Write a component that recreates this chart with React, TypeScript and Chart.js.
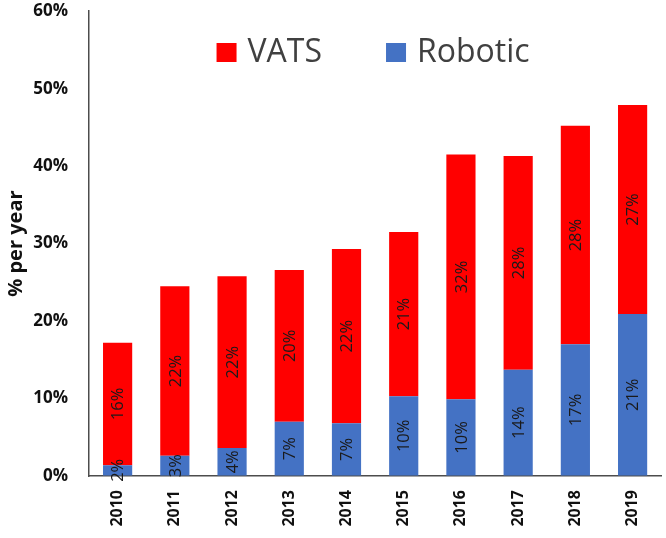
import React, { useEffect, useRef } from "react";
import { Chart, registerables } from "chart.js";

Chart.register(...registerables);

const years = ["2010", "2011", "2012", "2013", "2014", "2015", "2016", "2017", "2018", "2019"];
const robotic = [1.4, 2.6, 3.6, 7.0, 6.8, 10.3, 9.9, 13.7, 17.0, 20.9];
const vats = [15.8, 21.9, 22.2, 19.6, 22.5, 21.2, 31.6, 27.6, 28.2, 27.0];
const roboticLabels = ["2%", "3%", "4%", "7%", "7%", "10%", "10%", "14%", "17%", "21%"];
const vatsLabels = ["16%", "22%", "22%", "20%", "22%", "21%", "32%", "28%", "28%", "27%"];
const yTicks = [0, 10, 20, 30, 40, 50, 60];

const RED = "#FF0000";
const BLUE = "#4472C4";

const barLabelPlugin = {
  id: "barLabels",
  afterDatasetsDraw(chart: any) {
    const ctx = chart.ctx;
    const labelSets = [roboticLabels, vatsLabels];
    chart.data.datasets.forEach((ds: any, di: number) => {
      const meta = chart.getDatasetMeta(di);
      meta.data.forEach((bar: any, i: number) => {
        const { x, y, base } = bar.getProps(["x", "y", "base"], true);
        const cy = (y + base) / 2;
        ctx.save();
        ctx.translate(x, cy);
        ctx.rotate(-Math.PI / 2);
        ctx.font = '16.5px "Open Sans"';
        ctx.fillStyle = "#1a1a1a";
        ctx.textAlign = "center";
        ctx.textBaseline = "middle";
        ctx.fillText(labelSets[di][i], 0, 1);
        ctx.restore();
      });
    });
  },
};

const legendPlugin = {
  id: "customLegend",
  afterDraw(chart: any) {
    const ctx = chart.ctx;
    const area = chart.chartArea;
    const items = [
      { label: chart.data.datasets[1].label, color: chart.data.datasets[1].backgroundColor },
      { label: chart.data.datasets[0].label, color: chart.data.datasets[0].backgroundColor },
    ];
    ctx.save();
    ctx.font = '32px "Open Sans"';
    const box = 20;
    const gapText = 11;
    const gapItem = 64;
    const widths = items.map((it) => box + gapText + ctx.measureText(it.label).width);
    const total = widths.reduce((a, b) => a + b, 0) + gapItem * (items.length - 1);
    let x = (area.left + area.right) / 2 - total / 2 - 2;
    const top = 43;
    items.forEach((it, i) => {
      ctx.fillStyle = it.color;
      ctx.fillRect(x, top, box, 19);
      ctx.fillStyle = "#404040";
      ctx.textAlign = "left";
      ctx.textBaseline = "middle";
      ctx.fillText(it.label, x + box + gapText, top + 10);
      x += widths[i] + gapItem;
    });
    ctx.restore();
  },
};

export default function App() {
  const ref = useRef<HTMLCanvasElement | null>(null);
  useEffect(() => {
    document.body.style.margin = "0";
    if (!ref.current) return;
    const chart = new Chart(ref.current, {
      type: "bar",
      data: {
        labels: years,
        datasets: [
          { label: "Robotic", data: robotic, backgroundColor: BLUE, categoryPercentage: 1, barPercentage: 0.51 },
          { label: "VATS", data: vats, backgroundColor: RED, categoryPercentage: 1, barPercentage: 0.51 },
        ],
      },
      options: {
        animation: false,
        responsive: false,
        devicePixelRatio: 1,
        layout: { padding: { top: 0, right: 4, bottom: 0, left: 4 } },
        plugins: { legend: { display: false }, tooltip: { enabled: false } },
        scales: {
          x: {
            stacked: true,
            afterFit: (scale: any) => {
              scale.height = 62;
            },
            grid: { display: true, drawOnChartArea: false, drawTicks: true, tickLength: 0, color: "rgba(0,0,0,0)" },
            border: { display: true, color: "#4d4d4d", width: 1.5 },
            ticks: {
              color: "#111",
              font: { family: "Open Sans", weight: "bold", size: 16 },
              minRotation: 90,
              maxRotation: 90,
              padding: 14,
            },
          },
          y: {
            stacked: true,
            min: 0,
            max: 60,
            afterBuildTicks: (scale: any) => {
              scale.ticks = yTicks.map((v) => ({ value: v }));
            },
            afterFit: (scale: any) => {
              scale.width = 85;
            },
            grid: { display: true, drawOnChartArea: false, drawTicks: true, tickLength: 20, color: "rgba(0,0,0,0)" },
            border: { display: true, color: "#4d4d4d", width: 1.5 },
            ticks: {
              color: "#111",
              font: { family: "Open Sans", weight: "bold", size: 17 },
              padding: 1,
              callback: (v: any) => v + "%",
            },
            title: {
              display: true,
              text: "% per year",
              color: "#111",
              font: { family: "Open Sans", weight: "bold", size: 20 },
              padding: { top: 0, bottom: 4 },
            },
          },
        },
      },
      plugins: [barLabelPlugin, legendPlugin],
    });
    return () => chart.destroy();
  }, []);
  return <canvas ref={ref} width={666} height={538} style={{ display: "block" }} />;
}
